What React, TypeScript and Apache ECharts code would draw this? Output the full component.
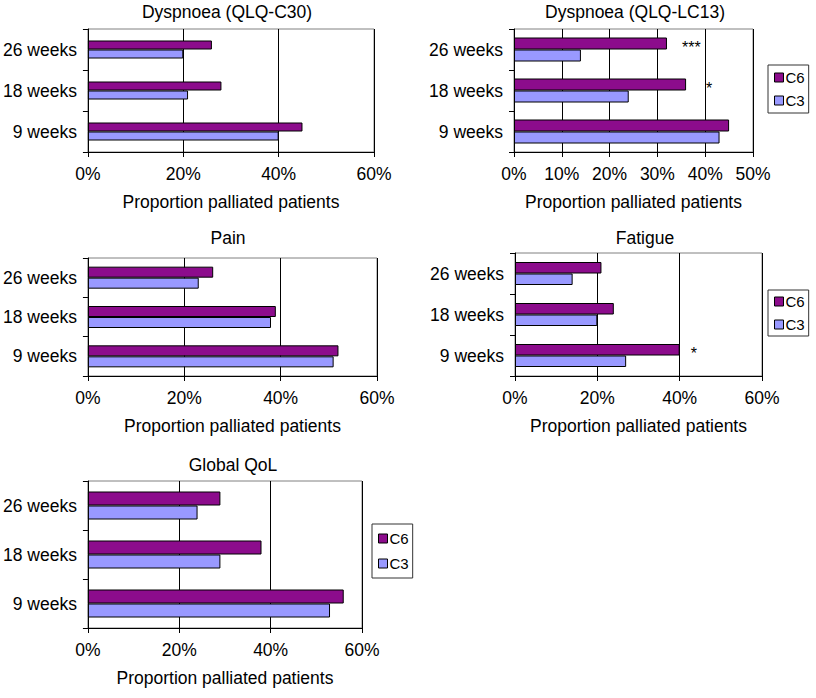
import React, { useEffect, useRef } from "react";
import * as echarts from "echarts";

const categories = ["9 weeks", "18 weeks", "26 weeks"];

const c30C6 = [45, 28, 26];
const c30C3 = [40, 21, 20];

const lc13C6 = [45, 36, 32];
const lc13C3 = [43, 24, 14];
const lc13Sig = ["", "*", "***"];

const painC6 = [52, 39, 26];
const painC3 = [51, 38, 23];

const fatigueC6 = [40, 24, 21];
const fatigueC3 = [27, 20, 14];
const fatigueSig = ["*", "", ""];

const qolC6 = [56, 38, 29];
const qolC3 = [53, 29, 24];

const seriesNames = ["C6", "C3"];
const axisTitle = "Proportion palliated patients";

const FONT = "'Liberation Sans', Arial, Helvetica, sans-serif";
const PURPLE = "#8C0C8C";
const BLUE = "#9999FF";

type Panel = {
  title: string;
  c6: number[];
  c3: number[];
  sig?: string[];
  sigGap?: number[];
  max: number;
  interval: number;
  grid: { left: number; top: number; width: number; height: number };
  titlePos: [number, number];
  barWidth: number;
  legend?: { left: number; top: number; padV: number; gap: number };
};

const panels: Panel[] = [
  {
    title: "Dyspnoea (QLQ-C30)",
    c6: c30C6,
    c3: c30C3,
    max: 60,
    interval: 20,
    grid: { left: 86, top: 29, width: 288, height: 123 },
    titlePos: [227, 12],
    barWidth: 9,
  },
  {
    title: "Dyspnoea (QLQ-LC13)",
    c6: lc13C6,
    c3: lc13C3,
    sig: lc13Sig,
    sigGap: [0, 20, 15],
    max: 50,
    interval: 10,
    grid: { left: 514, top: 29, width: 239, height: 123 },
    titlePos: [635, 12],
    barWidth: 12,
    legend: { left: 768, top: 65, padV: 5, gap: 8 },
  },
  {
    title: "Pain",
    c6: painC6,
    c3: painC3,
    max: 60,
    interval: 20,
    grid: { left: 86, top: 258, width: 291, height: 118 },
    titlePos: [228, 238],
    barWidth: 11,
  },
  {
    title: "Fatigue",
    c6: fatigueC6,
    c3: fatigueC3,
    sig: fatigueSig,
    sigGap: [11, 0, 0],
    max: 60,
    interval: 20,
    grid: { left: 515, top: 253, width: 247, height: 123 },
    titlePos: [645, 238],
    barWidth: 11.5,
    legend: { left: 768, top: 290, padV: 4, gap: 8 },
  },
  {
    title: "Global QoL",
    c6: qolC6,
    c3: qolC3,
    max: 60,
    interval: 20,
    grid: { left: 86, top: 481, width: 276, height: 147 },
    titlePos: [233, 465],
    barWidth: 14,
    legend: { left: 372, top: 524, padV: 7, gap: 10 },
  },
];

function buildOption() {
  const grids: any[] = [];
  const xAxes: any[] = [];
  const yAxes: any[] = [];
  const series: any[] = [];
  const legends: any[] = [];
  const graphics: any[] = [];

  panels.forEach((p, i) => {
    grids.push({
      ...p.grid,
      show: true,
      borderColor: "#808080",
      borderWidth: 1,
      backgroundColor: "#fff",
      containLabel: false,
    });
    xAxes.push({
      type: "value",
      gridIndex: i,
      min: 0,
      max: p.max,
      interval: p.interval,
      axisLine: { show: true, lineStyle: { color: "#000", width: 1 } },
      axisTick: { show: true, length: 5, lineStyle: { color: "#000" } },
      splitLine: { show: true, lineStyle: { color: "#000", width: 1 } },
      axisLabel: {
        formatter: "{value}%",
        color: "#000",
        fontFamily: FONT,
        fontSize: 17.5,
        margin: 13,
      },
      name: axisTitle,
      nameLocation: "middle",
      nameGap: 41,
      nameTextStyle: { color: "#000", fontFamily: FONT, fontSize: 17.5 },
    });
    yAxes.push({
      type: "category",
      gridIndex: i,
      data: categories,
      axisLine: { show: true, lineStyle: { color: "#000", width: 1 } },
      axisTick: { show: true, length: 5, lineStyle: { color: "#000" } },
      splitLine: { show: false },
      axisLabel: {
        color: "#000",
        fontFamily: FONT,
        fontSize: 17.5,
        margin: 11,
      },
    });
    const c3Series = {
      type: "bar",
      name: seriesNames[1],
      xAxisIndex: i,
      yAxisIndex: i,
      data: p.c3,
      barWidth: p.barWidth,
      barGap: "0%",
      itemStyle: { color: BLUE, borderColor: "#000", borderWidth: 1 },
    };
    const c6Series = {
      type: "bar",
      name: seriesNames[0],
      xAxisIndex: i,
      yAxisIndex: i,
      data: p.c6.map((v, k) => {
        const s = p.sig ? p.sig[k] : "";
        if (!s) return v;
        return {
          value: v,
          label: {
            show: true,
            position: "right",
            distance: p.sigGap ? p.sigGap[k] : 12,
            offset: [0, 4],
            formatter: s,
            color: "#000",
            fontFamily: FONT,
            fontSize: 16,
          },
        };
      }),
      barWidth: p.barWidth,
      barGap: "0%",
      itemStyle: { color: PURPLE, borderColor: "#000", borderWidth: 1 },
    };
    series.push(c6Series, c3Series);

    graphics.push({
      type: "text",
      x: p.titlePos[0],
      y: p.titlePos[1],
      style: {
        text: p.title,
        fill: "#000",
        font: `17.5px ${FONT}`,
        textAlign: "center",
        textVerticalAlign: "middle",
      },
    });

    if (p.legend) {
      legends.push({
        left: p.legend.left,
        top: p.legend.top,
        orient: "vertical",
        data: seriesNames,
        icon: "rect",
        itemWidth: 9,
        itemHeight: 9,
        itemGap: p.legend.gap,
        padding: [p.legend.padV, 4, p.legend.padV, 6],
        borderColor: "#333",
        borderWidth: 1,
        backgroundColor: "#fff",
        selectedMode: false,
        textStyle: {
          color: "#000",
          fontFamily: FONT,
          fontSize: 15,
          padding: [0, 0, 0, -3],
        },
        itemStyle: { borderColor: "#000", borderWidth: 1 },
      });
    }
  });

  return {
    animation: false,
    backgroundColor: "#fff",
    textStyle: { fontFamily: FONT },
    grid: grids,
    xAxis: xAxes,
    yAxis: yAxes,
    series,
    legend: legends,
    graphic: graphics,
  };
}

export default function App() {
  const ref = useRef<HTMLDivElement>(null);
  useEffect(() => {
    document.body.style.margin = "0";
    if (!ref.current) return;
    const chart = echarts.init(ref.current, undefined, { renderer: "svg" });
    chart.setOption(buildOption() as any);
    return () => {
      chart.dispose();
    };
  }, []);
  return <div ref={ref} style={{ width: 816, height: 698 }} />;
}
